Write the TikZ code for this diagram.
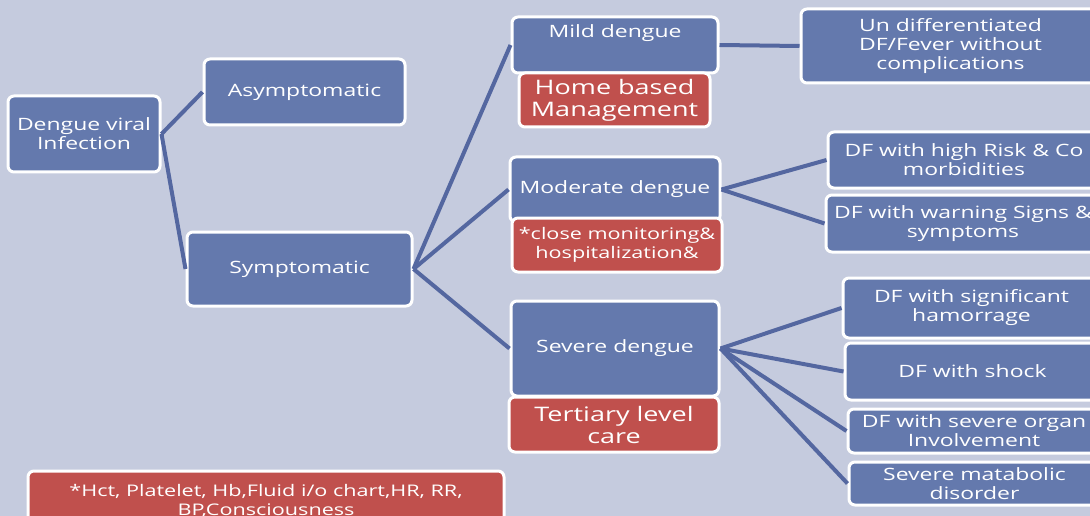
\documentclass[tikz,border=0pt]{standalone}
\usepackage{fontspec}
\setmainfont{Open Sans}[FakeStretch=1.35]
\usepackage{xcolor}
\definecolor{bgcol}{HTML}{C5CBDE}
\definecolor{boxblue}{HTML}{6479AD}
\definecolor{boxred}{HTML}{C0504D}
\definecolor{linecol}{HTML}{5467A0}
\tikzset{
  bluebox/.style={draw=white,line width=3,rounded corners=6,fill=boxblue,text=white,align=center,inner sep=0,font=\fontsize{17}{19}\selectfont},
  redbox/.style={bluebox,fill=boxred},
  bigred/.style={redbox,font=\fontsize{20}{22}\selectfont},
  link/.style={linecol,line width=4}}

\begin{document}
\begin{tikzpicture}[x=1pt,y=-1pt]
\clip (0,0) rectangle (1090,516);
\fill[bgcol] (0,0) rectangle (1090,516);
\node[bluebox,minimum width=152,minimum height=76] (dvi) at (84,134) {Dengue viral\\Infection};
\node[bluebox,minimum width=201,minimum height=66] (asym) at (304.5,92) {Asymptomatic};
\node[bluebox,minimum width=225,minimum height=74] (symp) at (299.5,269) {Symptomatic};
\node[bluebox,minimum width=206,minimum height=56] (mild) at (615,45) {Mild dengue\\[8pt]\mbox{}};
\node[bluebox,minimum width=210,minimum height=65] (mod) at (615,189.5) {Moderate dengue};
\node[bluebox,minimum width=208,minimum height=95] (sev) at (615,348.5) {Severe dengue};
\node[bluebox,minimum width=299,minimum height=74] (undiff) at (950.5,46) {Un differentiated\\DF/Fever without\\complications};
\node[bluebox,minimum width=272,minimum height=56] (risk) at (964,160) {DF with high Risk \& Co\\morbidities};
\node[bluebox,minimum width=274,minimum height=57] (warn) at (963,223.5) {DF with warning Signs \&\\symptoms};
\node[bluebox,minimum width=257,minimum height=60] (hamor) at (971.5,308) {DF with significant\\hamorrage};
\node[bluebox,minimum width=255,minimum height=57] (shock) at (972.5,371.5) {DF with shock};
\node[bluebox,minimum width=252,minimum height=44] (organ) at (974,431) {DF with severe organ\\Involvement};
\node[bluebox,minimum width=251,minimum height=43] (metab) at (974.5,483.5) {Severe matabolic\\disorder};
\draw[link] (dvi.east) -- (asym.west);
\draw[link] (dvi.east) -- (symp.west);
\draw[link] (symp.east) -- (mild.west);
\draw[link] (symp.east) -- (mod.west);
\draw[link] (symp.east) -- (sev.west);
\draw[link] (mild.east) -- (undiff.west);
\draw[link] (mod.east) -- (risk.west);
\draw[link] (mod.east) -- (warn.west);
\draw[link] (sev.east) -- (hamor.west);
\draw[link] (sev.east) -- (shock.west);
\draw[link] (sev.east) -- (organ.west);
\draw[link] (sev.east) -- (metab.west);
\node[bigred,minimum width=191,minimum height=54] (home) at (614.5,100) {Home based\\Management};
\node[redbox,minimum width=210,minimum height=54,font=\fontsize{16}{19}\selectfont] (close) at (617,245) {*close monitoring\&\\hospitalization\&};
\node[bigred,minimum width=210,minimum height=55] (tert) at (614,424.5) {Tertiary level\\care};
\node[redbox,minimum width=476,minimum height=59,font=\fontsize{16}{19}\selectfont] (chart) at (266,500.5) {*Hct, Platelet, Hb,Fluid i/o chart,HR, RR,\\BP,Consciousness};
\end{tikzpicture}
\end{document}
